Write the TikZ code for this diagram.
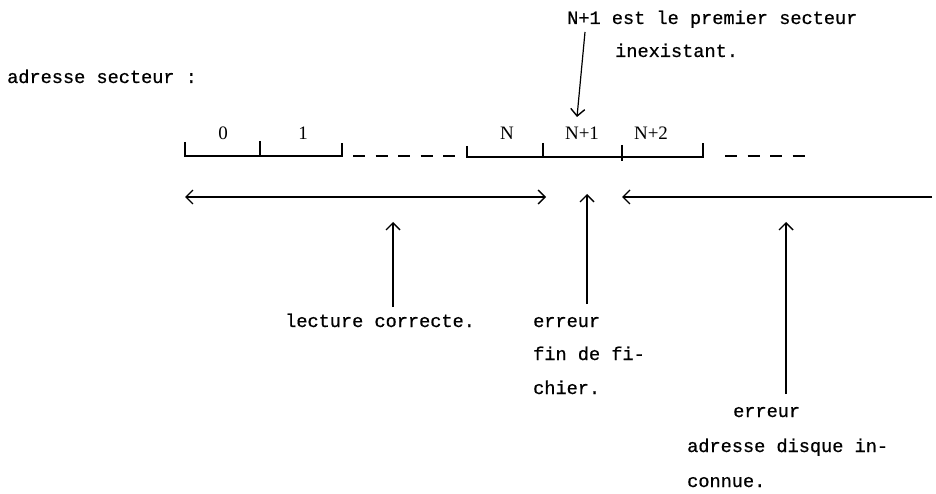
\documentclass[tikz,border=0pt]{standalone}
\usepackage{fontspec}
\newfontfamily\twfont{Liberation Mono}[FakeBold=0.7]
\newfontfamily\boxfont{Liberation Serif}
\usetikzlibrary{arrows.meta}
\begin{document}
\begin{tikzpicture}[x=1pt,y=-1pt,
  txt/.style={inner sep=0pt,anchor=base west,font=\fontsize{18.6}{22}\twfont},
  lab/.style={inner sep=0pt,anchor=base,font=\fontsize{19}{22}\boxfont},
  box/.style={line width=1.3pt},
  dsh/.style={line width=1.3pt,dash pattern=on 12pt off 10.5pt},
  arr/.style={line width=1.2pt,-{Straight Barb[length=7pt,width=14pt,line width=1.4pt]}},
  darr/.style={line width=1.2pt,{Straight Barb[length=7pt,width=14pt,line width=1.4pt]}-{Straight Barb[length=7pt,width=14pt,line width=1.4pt]}}]
\useasboundingbox (0,0) rectangle (936,494);
% texts
\node[txt] (addr) at (7,83) {adresse secteur :};
\node[txt] (t1) at (567,24) {N+1 est le premier secteur};
\node[txt] (t2) at (615,57) {inexistant.};
\node[txt] (lec) at (285,327) {lecture correcte.};
\node[txt] (e1) at (533,327) {erreur};
\node[txt] (e2) at (533,360) {fin de fi-};
\node[txt] (e3) at (533,394) {chier.};
\node[txt] (r1) at (733,417) {erreur};
\node[txt] (r2) at (687,452) {adresse disque in-};
\node[txt] (r3) at (687,487) {connue.};
% boxes labels
\node[lab] (l0) at (223,140) {0};
\node[lab] (l1) at (303,140) {1};
\node[lab] (lN) at (507,140) {N};
\node[lab] (lN1) at (582,140) {N+1};
\node[lab] (lN2) at (651,140) {N+2};
% segments
\draw[box] (185,142) -- (185,156) -- (342,156) -- (342,143);
\draw[box] (260,141) -- (260,156);
\draw[dsh] (353,156) -- (455,156);
\draw[box] (467,146) -- (467,157) -- (703,157) -- (703,143);
\draw[box] (543,143) -- (543,157);
\draw[box] (622,145) -- (622,161);
\draw[dsh] (725,156) -- (805,156);
% coordinates
\coordinate (a1) at (585,32);
\coordinate (a2) at (577,117);
\coordinate (h1) at (185,197);
\coordinate (h2) at (546,197);
\coordinate (h3) at (932,197);
\coordinate (h4) at (622,197);
\coordinate (v1t) at (393,222);
\coordinate (v1b) at (393,307);
\coordinate (v2t) at (587,194);
\coordinate (v2b) at (587,304);
\coordinate (v3t) at (786,222);
\coordinate (v3b) at (786,394);
% arrows
\draw[arr] (a1) -- (a2);
\draw[darr] (h1) -- (h2);
\draw[arr] (h3) -- (h4);
\draw[arr] (v1b) -- (v1t);
\draw[arr] (v2b) -- (v2t);
\draw[arr] (v3b) -- (v3t);
\end{tikzpicture}
\end{document}
